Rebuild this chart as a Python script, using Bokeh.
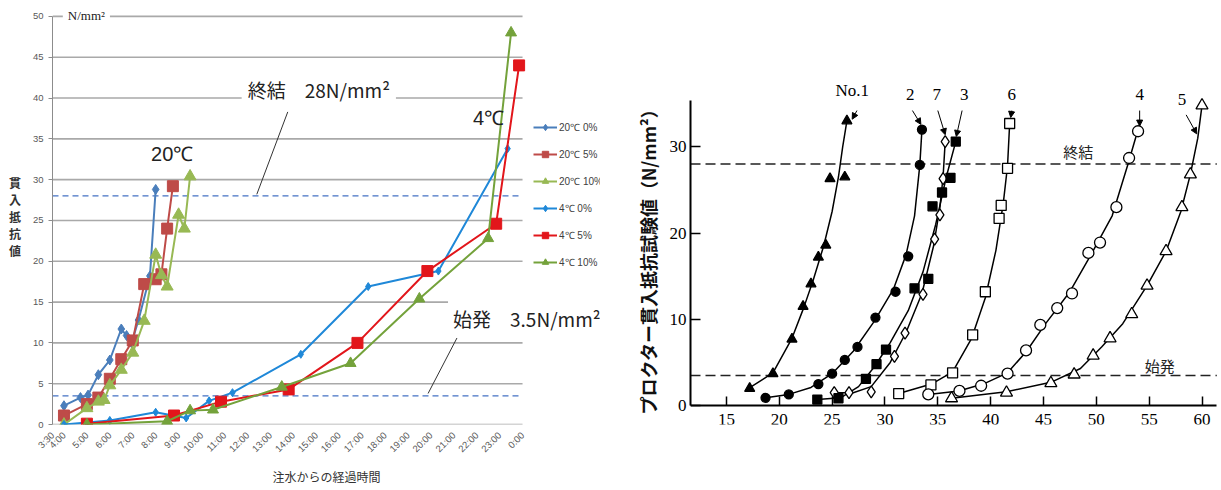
import math
from bokeh.plotting import figure
from bokeh.layouts import row
from bokeh.models import (Label, Legend, LegendItem, FixedTicker, Arrow,
                          NormalHead, Range1d)
from bokeh.embed import file_html
from bokeh.resources import INLINE

# ---------------- left chart data (hours after mixing, N/mm2) ----------------
x_ticks = [3.5] + list(range(4, 25))
x_tick_labels = ["3:30"] + ["%d:00" % h for h in range(4, 24)] + ["0:00"]
y_grid_values = list(range(0, 51, 5))

t20_0 = [4.0, 4.72, 5.05, 5.5, 6.0, 6.5, 6.73, 6.95, 7.25, 7.75, 8.0]
v20_0 = [2.3, 3.3, 3.6, 6.1, 7.9, 11.7, 10.9, 10.0, 12.8, 18.2, 28.8]
t20_5 = [4.0, 5.0, 5.5, 6.0, 6.5, 7.0, 7.5, 8.0, 8.25, 8.5, 8.75]
v20_5 = [1.1, 2.5, 3.3, 5.6, 8.0, 10.3, 17.2, 17.8, 18.4, 24.0, 29.2]
t20_10 = [4.0, 5.0, 5.5, 5.75, 6.0, 6.5, 7.0, 7.5, 8.0, 8.25, 8.5, 9.0, 9.25, 9.5]
v20_10 = [0.0, 2.0, 2.8, 3.0, 4.8, 6.7, 8.8, 12.7, 20.8, 18.3, 16.9, 25.7, 24.0, 30.4]
t4_0 = [4.0, 5.0, 6.0, 8.0, 9.33, 10.33, 11.35, 14.33, 17.27, 20.33, 23.35]
v4_0 = [0.0, 0.25, 0.5, 1.5, 0.8, 2.9, 3.9, 8.6, 16.9, 18.8, 33.8]
t4_5 = [5.0, 8.8, 10.85, 13.8, 16.8, 19.85, 22.85, 23.85]
v4_5 = [0.1, 1.1, 2.8, 4.3, 10.0, 18.8, 24.6, 44.0]
t4_10 = [5.0, 8.5, 9.5, 10.5, 13.5, 16.5, 19.5, 22.5, 23.5]
v4_10 = [0.0, 0.4, 1.7, 1.8, 4.6, 7.5, 15.4, 22.8, 48.0]

series_names = ["20℃ 0%", "20℃ 5%", "20℃ 10%", "4℃ 0%", "4℃ 5%", "4℃ 10%"]
series_colors = ["#4A7EBB", "#BE4B48", "#98B954", "#1F88D8", "#E2161B", "#74A23B"]
series_markers = ["diamond", "square", "triangle", "diamond", "square", "triangle"]
series_sizes = [10, 11, 12, 8, 11, 11]

final_set = 28.0
initial_set = 3.5

# ---------------- right chart data (elapsed h, N/mm2) ----------------
r_names = ["No.1", "2", "7", "3", "6", "4", "5"]
r1_x = [17.2, 19.4, 21.2, 22.25, 23.0, 23.7, 24.4, 24.8, 26.2, 26.4]
r1_y = [2.0, 3.7, 7.7, 11.5, 14.1, 17.2, 18.6, 26.3, 26.5, 33.0]
r1_cx = [17.1, 19.4, 21.2, 22.3, 23.2, 24.2, 25.0, 25.6, 26.0, 26.4]
r1_cy = [2.0, 3.8, 7.8, 11.3, 14.5, 18.5, 22.5, 26.5, 30.0, 33.0]
r2_x = [18.7, 20.9, 23.7, 25.0, 26.2, 27.4, 29.1, 31.0, 32.2, 33.3, 33.5]
r2_y = [0.9, 1.3, 2.5, 3.7, 5.3, 6.8, 10.2, 13.2, 17.3, 27.9, 32.0]
r2_cx = [18.7, 20.9, 23.0, 25.0, 27.0, 29.0, 30.8, 32.0, 32.8, 33.3, 33.5]
r2_cy = [0.9, 1.3, 2.1, 3.7, 6.3, 9.8, 13.5, 17.5, 22.0, 27.9, 32.0]
r7_x = [25.2, 26.6, 28.7, 30.9, 31.9, 33.6, 34.7, 35.2, 35.5, 35.7]
r7_y = [1.5, 1.5, 1.6, 5.7, 8.4, 12.9, 19.3, 22.1, 26.3, 30.6]
r7_cx = [25.2, 27.0, 28.7, 30.5, 32.0, 33.5, 34.6, 35.2, 35.5, 35.7]
r7_cy = [1.5, 1.5, 2.2, 5.0, 8.5, 13.0, 18.5, 23.0, 26.5, 30.6]
r3_x = [23.6, 25.6, 28.2, 29.2, 30.1, 32.8, 34.1, 34.5, 35.4, 36.2, 36.7]
r3_y = [0.7, 0.85, 3.1, 4.8, 6.5, 13.6, 14.7, 23.1, 24.7, 26.4, 30.6]
r3_cx = [23.6, 25.8, 27.5, 29.0, 30.5, 32.2, 33.6, 34.8, 35.8, 36.7]
r3_cy = [0.7, 0.9, 2.2, 4.5, 7.3, 11.0, 15.5, 21.0, 26.5, 30.6]
r6_x = [31.3, 34.35, 36.4, 38.3, 39.5, 40.8, 41.0, 41.6, 41.8]
r6_y = [1.4, 2.4, 3.8, 8.2, 13.2, 21.7, 23.2, 27.5, 32.7]
r6_cx = [31.3, 34.4, 36.4, 38.2, 39.5, 40.5, 41.2, 41.6, 41.8]
r6_cy = [1.4, 2.5, 3.9, 7.8, 12.5, 18.0, 23.5, 27.8, 32.7]
r4_x = [34.1, 37.05, 39.1, 41.6, 43.35, 44.7, 46.3, 47.7, 49.25, 50.35, 51.9, 53.1, 53.95]
r4_y = [1.3, 1.7, 2.3, 3.7, 6.4, 9.35, 11.3, 13.0, 17.7, 18.9, 23.0, 28.7, 31.8]
r4_cx = [34.1, 37.0, 39.5, 41.6, 43.4, 45.2, 47.5, 49.5, 51.5, 53.0, 53.9]
r4_cy = [1.3, 1.7, 2.6, 3.8, 6.3, 9.5, 13.2, 17.5, 22.0, 28.0, 31.8]
r5_x = [36.3, 41.5, 45.7, 47.9, 49.7, 51.3, 53.35, 54.8, 56.6, 58.1, 58.9, 60.0]
r5_y = [0.85, 1.5, 2.6, 3.6, 5.8, 7.8, 10.6, 13.9, 17.9, 23.0, 26.8, 34.8]
r5_cx = [36.3, 41.5, 45.7, 48.5, 50.5, 52.5, 54.8, 56.6, 58.0, 58.9, 59.6, 60.0]
r5_cy = [0.85, 1.6, 2.7, 4.3, 6.8, 9.5, 13.9, 17.9, 22.5, 26.8, 31.0, 34.8]

# label text positions and arrow (start x, start y, end x, end y)
r_label_x = [26.9, 32.4, 34.9, 37.5, 42.0, 54.1, 58.1]
r_label_y = [35.4, 35.4, 35.4, 35.4, 35.4, 35.4, 34.9]
r_arrows = [(27.35, 34.2, 26.9, 33.2), (32.6, 34.2, 33.4, 32.6), (35.0, 34.2, 35.7, 31.4),
            (37.3, 34.2, 36.75, 31.2), (42.0, 34.2, 41.9, 33.4), (54.1, 34.2, 54.1, 32.4),
            (58.5, 33.7, 59.5, 31.5)]

FONT_JP = "Noto Sans CJK JP"


def lab(p, x, y, text, size, font, color="#222222", bg=None, align="left", baseline="middle",
        style="normal", pad=0):
    l = Label(x=x, y=y, text=text, text_font_size=size, text_font=font, text_color=color,
              text_align=align, text_baseline=baseline, text_font_style=style)
    if bg:
        l.background_fill_color = bg
        l.padding = pad
    p.add_layout(l)


# =============================== LEFT ===============================
p1 = figure(width=600, height=488, x_range=Range1d(3.5, 27.4), y_range=Range1d(0, 50.97),
            output_backend="svg", toolbar_location=None,
            min_border_left=52, min_border_right=0, min_border_top=8, min_border_bottom=61)
p1.outline_line_color = None
p1.grid.visible = False
p1.yaxis.ticker = FixedTicker(ticks=y_grid_values)
p1.yaxis.bounds = (0, 50)
p1.xaxis.bounds = (3.5, 24.0)
p1.xaxis.ticker = FixedTicker(ticks=x_ticks)
p1.xaxis.major_label_overrides = {k: v for k, v in zip(x_ticks, x_tick_labels)}
p1.xaxis.major_label_orientation = math.pi / 4
for ax in (p1.xaxis, p1.yaxis):
    ax.axis_line_color = "#8C8C8C"
    ax.major_tick_line_color = "#8C8C8C"
    ax.minor_tick_line_color = None
    ax.major_tick_out = 4
    ax.major_tick_in = 0
    ax.major_label_text_font = "Liberation Sans"
    ax.major_label_text_font_size = "9.5px"
    ax.major_label_text_color = "#595959"
p1.xaxis.major_tick_line_color = None
p1.xaxis.axis_line_color = None
p1.xaxis.axis_label = "注水からの経過時間"
p1.xaxis.axis_label_text_font = FONT_JP
p1.xaxis.axis_label_text_font_style = "normal"
p1.xaxis.axis_label_text_font_size = "12px"
p1.xaxis.axis_label_text_color = "#333333"
p1.xaxis.axis_label_standoff = 7
p1.yaxis.axis_label = "貫\n入\n抵\n抗\n値"
p1.yaxis.axis_label_orientation = "horizontal"
p1.yaxis.axis_label_text_font = FONT_JP
p1.yaxis.axis_label_text_font_style = "bold"
p1.yaxis.axis_label_text_font_size = "12px"
p1.yaxis.axis_label_text_line_height = 1.0
p1.yaxis.axis_label_text_color = "#333333"
p1.yaxis.axis_label_standoff = 9

# horizontal gridlines (value axis)
n = len(y_grid_values)
p1.segment([x_ticks[0]] * n, y_grid_values, [x_ticks[-1]] * n, y_grid_values,
           line_color="#A9A9A9", line_width=1.6)
# reference levels
p1.segment([x_ticks[0]] * 2, [final_set, initial_set], [x_ticks[-1]] * 2, [final_set, initial_set],
           line_color="#4472C4", line_width=1.3, line_dash="6 4")

xs = [t20_0, t20_5, t20_10, t4_0, t4_5, t4_10]
ys = [v20_0, v20_5, v20_10, v4_0, v4_5, v4_10]
items = []
for name, xx, yy, c, m, s in zip(series_names, xs, ys, series_colors, series_markers, series_sizes):
    ln = p1.line(xx, yy, line_color=c, line_width=2)
    sc = p1.scatter(xx, yy, marker=m, size=s, fill_color=c, line_color=c)
    items.append(LegendItem(label=name, renderers=[ln, sc]))
leg = Legend(items=items, location=(481, 154), border_line_color=None,
             background_fill_alpha=0, label_text_font="Liberation Sans",
             label_text_font_size="10px", label_text_color="#404040",
             glyph_width=24, glyph_height=16, spacing=11, padding=2, margin=0,
             label_standoff=2)
p1.add_layout(leg, "center")

# leader lines
lead_x0 = [13.76, 21.14]
lead_y0 = [38.3, 10.6]
lead_x1 = [12.41, 19.88]
lead_y1 = [28.2, 3.8]
p1.segment(lead_x0, lead_y0, lead_x1, lead_y1, line_color="#333333", line_width=1)

lab(p1, 3.95, 50.1, "N/mm²", "13px", "Liberation Serif", bg="white", pad=5)
lab(p1, 11.75, 41.0, "終結\u300028N/mm²", "19px", FONT_JP, bg="white", pad=6)
lab(p1, 7.8, 33.1, "20℃", "20px", "Liberation Sans")
lab(p1, 21.84, 37.6, "4℃", "20px", "Liberation Sans")
lab(p1, 20.75, 13.0, "始発\u30003.5N/mm²", "19px", FONT_JP, bg="white", pad=5)

# =============================== RIGHT ===============================
p2 = figure(width=620, height=488, x_range=Range1d(11.6, 61.75), y_range=Range1d(-2.19, 46.03),
            output_backend="svg", toolbar_location=None,
            min_border_left=90, min_border_right=0, min_border_top=8, min_border_bottom=61)
p2.outline_line_color = None
p2.grid.visible = False
p2.xaxis.ticker = FixedTicker(ticks=list(range(15, 61, 5)))
p2.yaxis.ticker = FixedTicker(ticks=[0, 10, 20, 30])
p2.xaxis.bounds = (11.6, 61.4)
p2.yaxis.bounds = (0, 35.4)
p2.xaxis.fixed_location = 0
for ax in (p2.xaxis, p2.yaxis):
    ax.axis_line_color = "black"
    ax.axis_line_width = 2
    ax.major_tick_line_color = "black"
    ax.major_tick_line_width = 1.5
    ax.minor_tick_line_color = None
    ax.major_tick_out = 0
    ax.major_label_text_font = "Liberation Serif"
    ax.major_label_text_font_size = "17px"
    ax.major_label_text_color = "black"
    ax.axis_label_text_font = FONT_JP
    ax.axis_label_text_font_style = "bold"
    ax.axis_label_text_color = "#111111"
p2.xaxis.axis_label_text_font_size = "15px"
p2.yaxis.axis_label_text_font_size = "18px"
p2.xaxis.major_tick_in = 9
p2.yaxis.major_tick_in = 10
p2.xaxis.major_label_standoff = 8
p2.yaxis.major_label_standoff = 4
p2.xaxis.axis_label = "\u3000\u3000\u3000経過時間（h）"
p2.xaxis.axis_label_standoff = 4
p2.yaxis.axis_label = "プロクター貫入抵抗試験値（N/mm²）\u3000\u3000\u3000\u3000\u3000"
p2.yaxis.axis_label_standoff = 6

p2.segment([11.6, 11.6], [final_set, initial_set], [61.4, 61.4], [final_set, initial_set],
           line_color="#222222", line_dash="10 5", line_width=1.5)

curves = [(r1_cx, r1_cy), (r2_cx, r2_cy), (r7_cx, r7_cy), (r3_cx, r3_cy),
          (r6_cx, r6_cy), (r4_cx, r4_cy), (r5_cx, r5_cy)]
for cx, cy in curves:
    p2.line(cx, cy, line_color="black", line_width=1.5)

pts = [(r1_x, r1_y, "triangle", 10, "black"), (r2_x, r2_y, "circle", 9, "black"),
       (r7_x, r7_y, "diamond", 12, "white"), (r3_x, r3_y, "square", 9, "black"),
       (r6_x, r6_y, "square", 10, "white"), (r4_x, r4_y, "circle", 11, "white"),
       (r5_x, r5_y, "triangle", 12, "white")]
for xx, yy, m, s, f in pts:
    p2.scatter(xx, yy, marker=m, size=s, fill_color=f, line_color="black", line_width=1.3)

for name, lx, ly, (ax0, ay0, ax1, ay1) in zip(r_names, r_label_x, r_label_y, r_arrows):
    lab(p2, lx, ly, name, "17px", "Liberation Serif", color="black", align="center",
        baseline="bottom")
    p2.add_layout(Arrow(x_start=ax0, y_start=ay0, x_end=ax1, y_end=ay1, line_width=1,
                        end=NormalHead(size=6, fill_color="black", line_color="black")))

lab(p2, 48.3, 29.4, "終結", "15px", FONT_JP, color="#222222", align="center")
lab(p2, 56.0, 4.7, "始発", "15px", FONT_JP, color="#222222", align="center")

layout = row(p1, p2)
open("out.html", "w").write(file_html(layout, INLINE))
